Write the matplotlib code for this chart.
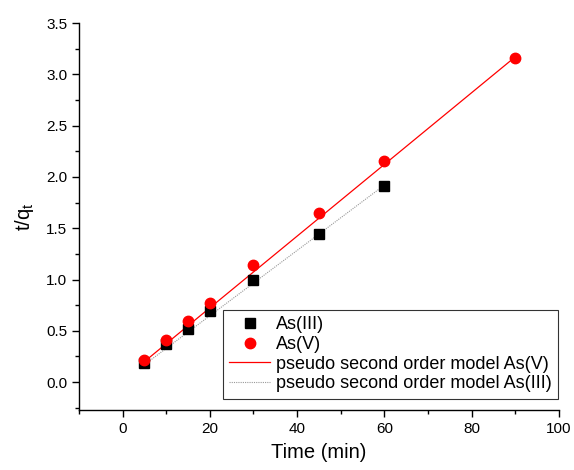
import matplotlib
matplotlib.use("Agg")
import matplotlib.pyplot as plt
from matplotlib.ticker import MultipleLocator

plt.rcParams['font.family'] = ['Liberation Sans', 'DejaVu Sans']
plt.rcParams['mathtext.fontset'] = 'custom'
plt.rcParams['mathtext.rm'] = 'Liberation Sans'
plt.rcParams['mathtext.it'] = 'Liberation Sans'

# data
t_as3 = [5, 10, 15, 20, 30, 45, 60]
tq_as3 = [0.19, 0.37, 0.52, 0.69, 1.00, 1.44, 1.91]
t_as5 = [5, 10, 15, 20, 30, 45, 60, 90]
tq_as5 = [0.22, 0.41, 0.60, 0.77, 1.14, 1.65, 2.16, 3.16]

# fitted model lines (end points)
fit_as5_t = [5, 90]
fit_as5_y = [0.20, 3.17]
fit_as3_t = [5, 60]
fit_as3_y = [0.17, 1.92]

fig = plt.figure(figsize=(5.74, 4.70), dpi=100)
ax = fig.add_axes([0.1376, 0.128, 0.836, 0.823])

ax.plot(fit_as5_t, fit_as5_y, color='red', lw=0.9, zorder=2,
        label='pseudo second order model As(V)')
ax.plot(fit_as3_t, fit_as3_y, color='#999999', lw=0.8, linestyle=(0, (1, 1)),
        zorder=1, label='pseudo second order model As(III)')
ax.plot(t_as3, tq_as3, 's', color='black', ms=6.5, lw=0, zorder=3, label='As(III)')
ax.plot(t_as5, tq_as5, 'o', color='red', ms=7.5, lw=0, zorder=4, label='As(V)')

ax.set_xlim(-10, 100)
ax.set_ylim(-0.27, 3.5)
ax.xaxis.set_major_locator(MultipleLocator(20))
ax.xaxis.set_minor_locator(MultipleLocator(10))
ax.yaxis.set_major_locator(MultipleLocator(0.5))
ax.yaxis.set_minor_locator(MultipleLocator(0.25))
ax.yaxis.set_major_formatter(plt.FormatStrFormatter('%.1f'))

for s in ['top', 'right']:
    ax.spines[s].set_visible(False)
for s in ['left', 'bottom']:
    ax.spines[s].set_linewidth(1.0)
ax.tick_params(which='major', direction='out', length=5, width=1, labelsize=11)
ax.tick_params(which='minor', direction='out', length=3, width=1)

ax.set_xlabel('Time (min)', fontsize=14.5, labelpad=5)
ax.set_ylabel('t/q$_t$', fontsize=14.5, labelpad=7)

# legend: markers first, then model lines
h, l = ax.get_legend_handles_labels()
order = [2, 3, 0, 1]
leg = ax.legend([h[i] for i in order], [l[i] for i in order],
                loc='lower right', bbox_to_anchor=(0.998, 0.029),
                borderaxespad=0, fontsize=13, frameon=True, fancybox=False,
                handlelength=2.3, handletextpad=0.3, labelspacing=0.15,
                borderpad=0.35)
leg.get_frame().set_edgecolor('black')
leg.get_frame().set_linewidth(0.8)

fig.savefig('out.png', dpi=100)
